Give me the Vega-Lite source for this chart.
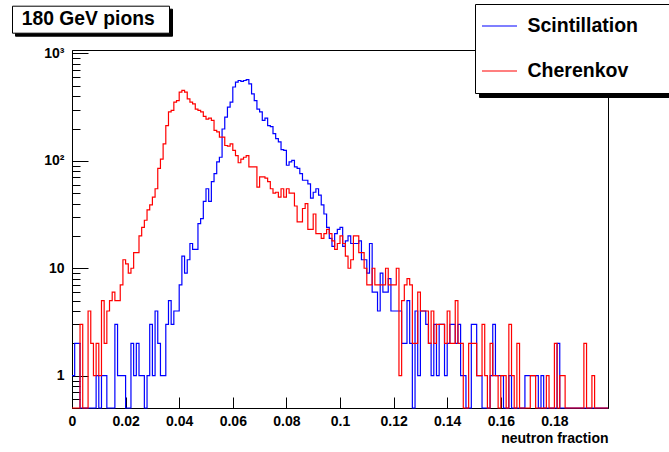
{
  "$schema": "https://vega.github.io/schema/vega-lite/v6.json",
  "width": 536,
  "height": 358,
  "autosize": {"type": "none"},
  "padding": {"left": 72, "top": 50, "right": 61, "bottom": 44},
  "background": "white",
  "config": {
    "view": {"stroke": "black", "strokeWidth": 1},
    "axis": {"grid": false, "domainColor": "black", "tickColor": "black", "labelColor": "black", "titleColor": "black", "labelFont": "Liberation Sans", "labelFontWeight": "bold", "labelFontSize": 14, "titleFont": "Liberation Sans", "titleFontWeight": "bold", "titleFontSize": 14, "tickWidth": 1, "domainWidth": 1}
  },
  "data": {"values": [
    {"x": 0, "Scintillation": 1, "Cherenkov": 0},
    {"x": 0.001, "Scintillation": 2, "Cherenkov": 0},
    {"x": 0.002, "Scintillation": 2, "Cherenkov": 0},
    {"x": 0.003, "Scintillation": 0, "Cherenkov": 3},
    {"x": 0.004, "Scintillation": 0, "Cherenkov": 0},
    {"x": 0.005, "Scintillation": 0, "Cherenkov": 0},
    {"x": 0.006, "Scintillation": 0, "Cherenkov": 4},
    {"x": 0.007, "Scintillation": 0, "Cherenkov": 2},
    {"x": 0.008, "Scintillation": 0, "Cherenkov": 1},
    {"x": 0.009, "Scintillation": 1, "Cherenkov": 2},
    {"x": 0.01, "Scintillation": 0, "Cherenkov": 1},
    {"x": 0.011, "Scintillation": 1, "Cherenkov": 5},
    {"x": 0.012, "Scintillation": 1, "Cherenkov": 2},
    {"x": 0.013, "Scintillation": 0, "Cherenkov": 4},
    {"x": 0.014, "Scintillation": 0, "Cherenkov": 5},
    {"x": 0.015, "Scintillation": 0, "Cherenkov": 6},
    {"x": 0.016, "Scintillation": 3, "Cherenkov": 5},
    {"x": 0.017, "Scintillation": 1, "Cherenkov": 5},
    {"x": 0.018, "Scintillation": 1, "Cherenkov": 7},
    {"x": 0.019, "Scintillation": 1, "Cherenkov": 12},
    {"x": 0.02, "Scintillation": 0, "Cherenkov": 11},
    {"x": 0.021, "Scintillation": 0, "Cherenkov": 9},
    {"x": 0.022, "Scintillation": 2, "Cherenkov": 10},
    {"x": 0.023, "Scintillation": 1, "Cherenkov": 14},
    {"x": 0.024, "Scintillation": 2, "Cherenkov": 14},
    {"x": 0.025, "Scintillation": 1, "Cherenkov": 20},
    {"x": 0.026, "Scintillation": 1, "Cherenkov": 24},
    {"x": 0.027, "Scintillation": 0, "Cherenkov": 28},
    {"x": 0.028, "Scintillation": 1, "Cherenkov": 35},
    {"x": 0.029, "Scintillation": 3, "Cherenkov": 39},
    {"x": 0.03, "Scintillation": 1, "Cherenkov": 46},
    {"x": 0.031, "Scintillation": 4, "Cherenkov": 55},
    {"x": 0.032, "Scintillation": 2, "Cherenkov": 85},
    {"x": 0.033, "Scintillation": 1, "Cherenkov": 104},
    {"x": 0.034, "Scintillation": 1, "Cherenkov": 144},
    {"x": 0.035, "Scintillation": 3, "Cherenkov": 213},
    {"x": 0.036, "Scintillation": 5, "Cherenkov": 286},
    {"x": 0.037, "Scintillation": 3, "Cherenkov": 295},
    {"x": 0.038, "Scintillation": 4, "Cherenkov": 352},
    {"x": 0.039, "Scintillation": 4, "Cherenkov": 364},
    {"x": 0.04, "Scintillation": 7, "Cherenkov": 437},
    {"x": 0.041, "Scintillation": 13, "Cherenkov": 453},
    {"x": 0.042, "Scintillation": 9, "Cherenkov": 437},
    {"x": 0.043, "Scintillation": 12, "Cherenkov": 377},
    {"x": 0.044, "Scintillation": 17, "Cherenkov": 352},
    {"x": 0.045, "Scintillation": 15, "Cherenkov": 339},
    {"x": 0.046, "Scintillation": 15, "Cherenkov": 303},
    {"x": 0.047, "Scintillation": 26, "Cherenkov": 295},
    {"x": 0.048, "Scintillation": 29, "Cherenkov": 286},
    {"x": 0.049, "Scintillation": 42, "Cherenkov": 260},
    {"x": 0.05, "Scintillation": 55, "Cherenkov": 245},
    {"x": 0.051, "Scintillation": 42, "Cherenkov": 250},
    {"x": 0.052, "Scintillation": 64, "Cherenkov": 238},
    {"x": 0.053, "Scintillation": 76, "Cherenkov": 192},
    {"x": 0.054, "Scintillation": 98, "Cherenkov": 186},
    {"x": 0.055, "Scintillation": 108, "Cherenkov": 166},
    {"x": 0.056, "Scintillation": 198, "Cherenkov": 166},
    {"x": 0.057, "Scintillation": 255, "Cherenkov": 139},
    {"x": 0.058, "Scintillation": 317, "Cherenkov": 137},
    {"x": 0.059, "Scintillation": 352, "Cherenkov": 144},
    {"x": 0.06, "Scintillation": 487, "Cherenkov": 125},
    {"x": 0.061, "Scintillation": 540, "Cherenkov": 112},
    {"x": 0.062, "Scintillation": 560, "Cherenkov": 96},
    {"x": 0.063, "Scintillation": 550, "Cherenkov": 104},
    {"x": 0.064, "Scintillation": 560, "Cherenkov": 108},
    {"x": 0.065, "Scintillation": 570, "Cherenkov": 112},
    {"x": 0.066, "Scintillation": 520, "Cherenkov": 88},
    {"x": 0.067, "Scintillation": 420, "Cherenkov": 88},
    {"x": 0.068, "Scintillation": 364, "Cherenkov": 88},
    {"x": 0.069, "Scintillation": 303, "Cherenkov": 57},
    {"x": 0.07, "Scintillation": 286, "Cherenkov": 71},
    {"x": 0.071, "Scintillation": 238, "Cherenkov": 71},
    {"x": 0.072, "Scintillation": 250, "Cherenkov": 69},
    {"x": 0.073, "Scintillation": 213, "Cherenkov": 64},
    {"x": 0.074, "Scintillation": 208, "Cherenkov": 55},
    {"x": 0.075, "Scintillation": 179, "Cherenkov": 50},
    {"x": 0.076, "Scintillation": 161, "Cherenkov": 51},
    {"x": 0.077, "Scintillation": 150, "Cherenkov": 46},
    {"x": 0.078, "Scintillation": 127, "Cherenkov": 55},
    {"x": 0.079, "Scintillation": 125, "Cherenkov": 46},
    {"x": 0.08, "Scintillation": 91, "Cherenkov": 55},
    {"x": 0.081, "Scintillation": 98, "Cherenkov": 50},
    {"x": 0.082, "Scintillation": 101, "Cherenkov": 50},
    {"x": 0.083, "Scintillation": 88, "Cherenkov": 38},
    {"x": 0.084, "Scintillation": 85, "Cherenkov": 27},
    {"x": 0.085, "Scintillation": 76, "Cherenkov": 27},
    {"x": 0.086, "Scintillation": 66, "Cherenkov": 36},
    {"x": 0.087, "Scintillation": 66, "Cherenkov": 40},
    {"x": 0.088, "Scintillation": 61, "Cherenkov": 23},
    {"x": 0.089, "Scintillation": 45, "Cherenkov": 23},
    {"x": 0.09, "Scintillation": 51, "Cherenkov": 32},
    {"x": 0.091, "Scintillation": 55, "Cherenkov": 21},
    {"x": 0.092, "Scintillation": 48, "Cherenkov": 21},
    {"x": 0.093, "Scintillation": 39, "Cherenkov": 19},
    {"x": 0.094, "Scintillation": 32, "Cherenkov": 21},
    {"x": 0.095, "Scintillation": 24, "Cherenkov": 23},
    {"x": 0.096, "Scintillation": 19, "Cherenkov": 21},
    {"x": 0.097, "Scintillation": 16, "Cherenkov": 18},
    {"x": 0.098, "Scintillation": 21, "Cherenkov": 15},
    {"x": 0.099, "Scintillation": 23, "Cherenkov": 17},
    {"x": 0.1, "Scintillation": 24, "Cherenkov": 20},
    {"x": 0.101, "Scintillation": 16, "Cherenkov": 17},
    {"x": 0.102, "Scintillation": 18, "Cherenkov": 13},
    {"x": 0.103, "Scintillation": 20, "Cherenkov": 10},
    {"x": 0.104, "Scintillation": 17, "Cherenkov": 12},
    {"x": 0.105, "Scintillation": 17, "Cherenkov": 20},
    {"x": 0.106, "Scintillation": 17, "Cherenkov": 20},
    {"x": 0.107, "Scintillation": 18, "Cherenkov": 14},
    {"x": 0.108, "Scintillation": 12, "Cherenkov": 14},
    {"x": 0.109, "Scintillation": 12, "Cherenkov": 10},
    {"x": 0.11, "Scintillation": 9, "Cherenkov": 7},
    {"x": 0.111, "Scintillation": 17, "Cherenkov": 7},
    {"x": 0.112, "Scintillation": 6, "Cherenkov": 10},
    {"x": 0.113, "Scintillation": 6, "Cherenkov": 7},
    {"x": 0.114, "Scintillation": 4, "Cherenkov": 7},
    {"x": 0.115, "Scintillation": 9, "Cherenkov": 7},
    {"x": 0.116, "Scintillation": 6, "Cherenkov": 7},
    {"x": 0.117, "Scintillation": 6, "Cherenkov": 10},
    {"x": 0.118, "Scintillation": 8, "Cherenkov": 7},
    {"x": 0.119, "Scintillation": 4, "Cherenkov": 7},
    {"x": 0.12, "Scintillation": 4, "Cherenkov": 7},
    {"x": 0.121, "Scintillation": 4, "Cherenkov": 10},
    {"x": 0.122, "Scintillation": 4, "Cherenkov": 1},
    {"x": 0.123, "Scintillation": 2, "Cherenkov": 5},
    {"x": 0.124, "Scintillation": 2, "Cherenkov": 7},
    {"x": 0.125, "Scintillation": 5, "Cherenkov": 8},
    {"x": 0.126, "Scintillation": 2, "Cherenkov": 7},
    {"x": 0.127, "Scintillation": 0, "Cherenkov": 2},
    {"x": 0.128, "Scintillation": 4, "Cherenkov": 2},
    {"x": 0.129, "Scintillation": 1, "Cherenkov": 6},
    {"x": 0.13, "Scintillation": 4, "Cherenkov": 4},
    {"x": 0.131, "Scintillation": 4, "Cherenkov": 4},
    {"x": 0.132, "Scintillation": 3, "Cherenkov": 4},
    {"x": 0.133, "Scintillation": 2, "Cherenkov": 2},
    {"x": 0.134, "Scintillation": 1, "Cherenkov": 4},
    {"x": 0.135, "Scintillation": 3, "Cherenkov": 2},
    {"x": 0.136, "Scintillation": 1, "Cherenkov": 3},
    {"x": 0.137, "Scintillation": 3, "Cherenkov": 3},
    {"x": 0.138, "Scintillation": 3, "Cherenkov": 3},
    {"x": 0.139, "Scintillation": 1, "Cherenkov": 2},
    {"x": 0.14, "Scintillation": 2, "Cherenkov": 4},
    {"x": 0.141, "Scintillation": 3, "Cherenkov": 2},
    {"x": 0.142, "Scintillation": 3, "Cherenkov": 2},
    {"x": 0.143, "Scintillation": 2, "Cherenkov": 5},
    {"x": 0.144, "Scintillation": 3, "Cherenkov": 2},
    {"x": 0.145, "Scintillation": 1, "Cherenkov": 2},
    {"x": 0.146, "Scintillation": 1, "Cherenkov": 0},
    {"x": 0.147, "Scintillation": 0, "Cherenkov": 0},
    {"x": 0.148, "Scintillation": 0, "Cherenkov": 2},
    {"x": 0.149, "Scintillation": 3, "Cherenkov": 2},
    {"x": 0.15, "Scintillation": 3, "Cherenkov": 2},
    {"x": 0.151, "Scintillation": 1, "Cherenkov": 1},
    {"x": 0.152, "Scintillation": 1, "Cherenkov": 1},
    {"x": 0.153, "Scintillation": 0, "Cherenkov": 3},
    {"x": 0.154, "Scintillation": 0, "Cherenkov": 1},
    {"x": 0.155, "Scintillation": 0, "Cherenkov": 0},
    {"x": 0.156, "Scintillation": 1, "Cherenkov": 2},
    {"x": 0.157, "Scintillation": 3, "Cherenkov": 1},
    {"x": 0.158, "Scintillation": 1, "Cherenkov": 1},
    {"x": 0.159, "Scintillation": 1, "Cherenkov": 0},
    {"x": 0.16, "Scintillation": 1, "Cherenkov": 1},
    {"x": 0.161, "Scintillation": 0, "Cherenkov": 1},
    {"x": 0.162, "Scintillation": 0, "Cherenkov": 0},
    {"x": 0.163, "Scintillation": 1, "Cherenkov": 3},
    {"x": 0.164, "Scintillation": 0, "Cherenkov": 1},
    {"x": 0.165, "Scintillation": 0, "Cherenkov": 0},
    {"x": 0.166, "Scintillation": 0, "Cherenkov": 2},
    {"x": 0.167, "Scintillation": 0, "Cherenkov": 0},
    {"x": 0.168, "Scintillation": 0, "Cherenkov": 0},
    {"x": 0.169, "Scintillation": 1, "Cherenkov": 0},
    {"x": 0.17, "Scintillation": 1, "Cherenkov": 0},
    {"x": 0.171, "Scintillation": 1, "Cherenkov": 1},
    {"x": 0.172, "Scintillation": 1, "Cherenkov": 1},
    {"x": 0.173, "Scintillation": 1, "Cherenkov": 0},
    {"x": 0.174, "Scintillation": 0, "Cherenkov": 0},
    {"x": 0.175, "Scintillation": 1, "Cherenkov": 0},
    {"x": 0.176, "Scintillation": 0, "Cherenkov": 0},
    {"x": 0.177, "Scintillation": 0, "Cherenkov": 1},
    {"x": 0.178, "Scintillation": 0, "Cherenkov": 0},
    {"x": 0.179, "Scintillation": 0, "Cherenkov": 0},
    {"x": 0.18, "Scintillation": 0, "Cherenkov": 2},
    {"x": 0.181, "Scintillation": 2, "Cherenkov": 0},
    {"x": 0.182, "Scintillation": 0, "Cherenkov": 1},
    {"x": 0.183, "Scintillation": 0, "Cherenkov": 1},
    {"x": 0.184, "Scintillation": 0, "Cherenkov": 0},
    {"x": 0.185, "Scintillation": 0, "Cherenkov": 0},
    {"x": 0.186, "Scintillation": 0, "Cherenkov": 0},
    {"x": 0.187, "Scintillation": 0, "Cherenkov": 0},
    {"x": 0.188, "Scintillation": 0, "Cherenkov": 0},
    {"x": 0.189, "Scintillation": 0, "Cherenkov": 0},
    {"x": 0.19, "Scintillation": 0, "Cherenkov": 0},
    {"x": 0.191, "Scintillation": 0, "Cherenkov": 2},
    {"x": 0.192, "Scintillation": 0, "Cherenkov": 0},
    {"x": 0.193, "Scintillation": 0, "Cherenkov": 0},
    {"x": 0.194, "Scintillation": 0, "Cherenkov": 1},
    {"x": 0.195, "Scintillation": 0, "Cherenkov": 0},
    {"x": 0.196, "Scintillation": 0, "Cherenkov": 0},
    {"x": 0.197, "Scintillation": 0, "Cherenkov": 0},
    {"x": 0.198, "Scintillation": 0, "Cherenkov": 0},
    {"x": 0.199, "Scintillation": 0, "Cherenkov": 0},
    {"x": 0.2, "Scintillation": 0, "Cherenkov": 0}
  ]},
  "layer": [
    {
      "data": {"values": [{"k": "legend shadow"}]},
      "mark": {"type": "point", "opacity": 0},
      "encoding": {
        "x": {"datum": 0.1},
        "y": {"datum": 10},
        "color": {
          "field": "k", "type": "nominal",
          "scale": {"range": ["black"]},
          "legend": {
            "title": null, "orient": "none", "legendX": 407, "legendY": -42,
            "symbolType": "square", "symbolSize": 33124, "symbolStrokeWidth": 0, "symbolOpacity": 0,
            "clipHeight": 81, "labelFontSize": 10, "labelColor": "black", "labelOffset": 0,
            "labelExpr": "''",
            "padding": 4, "strokeColor": "black", "fillColor": "black"
          }
        }
      }
    },
    {
      "data": {"values": [{"k": "title shadow"}]},
      "mark": {"type": "point", "opacity": 0},
      "encoding": {
        "x": {"datum": 0.1},
        "y": {"datum": 10},
        "fill": {
          "field": "k", "type": "nominal",
          "scale": {"range": ["black"]},
          "legend": {
            "title": null, "orient": "none", "legendX": -57, "legendY": -41.3,
            "symbolType": "square", "symbolSize": 22500, "symbolStrokeWidth": 0, "symbolOpacity": 0,
            "clipHeight": 19.3, "labelFontSize": 10, "labelColor": "black", "labelOffset": 0,
            "labelExpr": "''",
            "padding": 3.5, "strokeColor": "black", "fillColor": "black"
          }
        }
      }
    },
    {
      "mark": {"type": "line", "interpolate": "step-after", "strokeWidth": 1.2, "invalid": null},
      "encoding": {
        "x": {
          "field": "x", "type": "quantitative",
          "scale": {"domain": [0, 0.2], "nice": false, "zero": false},
          "axis": {
            "title": "neutron fraction", "titleAnchor": "end", "titleAlign": "right", "titleX": 536, "titleY": 34, "titleBaseline": "alphabetic",
            "values": [0, 0.005, 0.01, 0.015, 0.02, 0.025, 0.03, 0.035, 0.04, 0.045, 0.05, 0.055, 0.06, 0.065, 0.07, 0.075, 0.08, 0.085, 0.09, 0.095, 0.1, 0.105, 0.11, 0.115, 0.12, 0.125, 0.13, 0.135, 0.14, 0.145, 0.15, 0.155, 0.16, 0.165, 0.17, 0.175, 0.18, 0.185, 0.19, 0.195],
            "labelExpr": "abs(datum.value*50 - round(datum.value*50)) < 1e-6 ? format(datum.value, '~g') : ''",
            "labelFlush": false, "labelOverlap": false, "labelPadding": 17,
            "tickSize": {"condition": {"test": "abs(datum.value*50 - round(datum.value*50)) < 1e-6", "value": -11}, "value": -5.5}
          }
        },
        "y": {
          "field": "Scintillation", "type": "quantitative",
          "scale": {"type": "log", "domain": [0.5, 1077], "clamp": true, "nice": false},
          "axis": {
            "title": null,
            "values": [0.6, 0.7, 0.8, 0.9, 1, 2, 3, 4, 5, 6, 7, 8, 9, 10, 20, 30, 40, 50, 60, 70, 80, 90, 100, 200, 300, 400, 500, 600, 700, 800, 900, 1000],
            "labelExpr": "datum.value == 1 ? '1' : datum.value == 10 ? '10' : datum.value == 100 ? '10\u00b2' : datum.value == 1000 ? '10\u00b3' : ''",
            "labelOverlap": false, "labelPadding": 24, "labelBaseline": "middle",
            "tickSize": {"condition": {"test": "datum.value == 1 || datum.value == 10 || datum.value == 100 || datum.value == 1000", "value": -16}, "value": -8}
          }
        },
        "stroke": {
          "datum": "Scintillation",
          "scale": {"domain": ["Scintillation", "Cherenkov"], "range": ["#0000ff", "#ff0000"]},
          "legend": {
            "title": null,
            "orient": "none", "legendX": 403, "legendY": -46, "direction": "vertical",
            "symbolType": "stroke", "symbolSize": 1225, "symbolStrokeWidth": 1.2, "symbolOffset": 2.5,
            "clipHeight": 37,
            "labelFont": "Liberation Sans", "labelFontWeight": "bold", "labelFontSize": 19.5, "labelColor": "black",
            "labelOffset": 9.5, "rowPadding": 8, "padding": 3.5, "strokeColor": "black", "fillColor": "white", "labelLimit": 400,
            "labelExpr": "datum.label + '\u00a0\u00a0\u00a0\u00a0\u00a0\u200b'"
          }
        }
      }
    },
    {
      "mark": {"type": "line", "interpolate": "step-after", "strokeWidth": 1.2, "invalid": null},
      "encoding": {
        "x": {"field": "x", "type": "quantitative"},
        "y": {"field": "Cherenkov", "type": "quantitative"},
        "stroke": {"datum": "Cherenkov"}
      }
    },
    {
      "data": {"values": [{"t": "180 GeV pions"}]},
      "mark": {"type": "point", "opacity": 0},
      "encoding": {
        "x": {"datum": 0.1},
        "y": {"datum": 10},
        "shape": {
          "field": "t", "type": "nominal",
          "legend": {
            "title": null, "orient": "none", "legendX": -60, "legendY": -44.3,
            "symbolSize": 0, "symbolOpacity": 0, "symbolStrokeWidth": 0,
            "labelFont": "Liberation Sans", "labelFontWeight": "bold", "labelFontSize": 19.3, "labelColor": "black",
            "labelOffset": -13, "padding": 3.5, "strokeColor": "black", "fillColor": "white", "labelLimit": 400,
            "labelExpr": "datum.label + '\u00a0\u00a0\u200b'"
          }
        }
      }
    }
  ]
}
